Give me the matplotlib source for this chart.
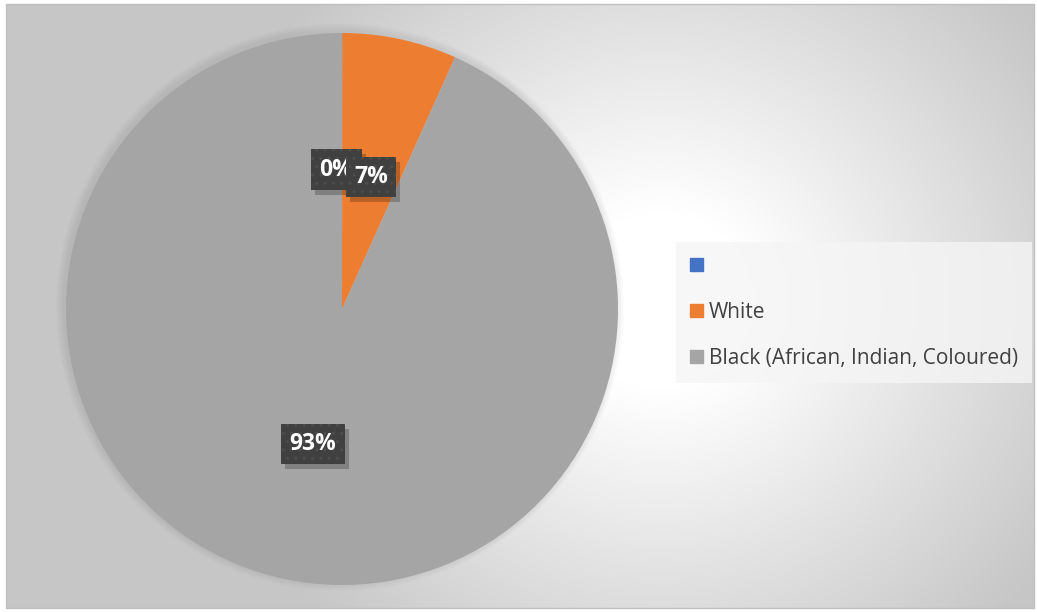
import numpy as np
import matplotlib.pyplot as plt
from matplotlib.patches import Rectangle, Circle
from matplotlib.transforms import IdentityTransform

# data
categories = ['', 'White', 'Black (African, Indian, Coloured)']
shares = [0.02, 6.7, 93.28]
pct_labels = ['0%', '7%', '93%']
colors = ['#4472C4', '#ED7D31', '#A5A5A5']

W, H = 1037, 612
fig = plt.figure(figsize=(W / 100, H / 100), dpi=100)
fig.patch.set_facecolor('white')

# background with radial gradient (chart area)
bg = fig.add_axes([0, 0, 1, 1])
bg.set_xlim(0, W)
bg.set_ylim(H, 0)
bg.axis('off')
yy, xx = np.mgrid[0:H, 0:W]
r = np.hypot((xx - 660) * 0.95, yy - 300)
t = np.clip((r - 90) / 360, 0, 1)
g = 1.0 - t * (1.0 - 0.78)
img = np.dstack([g, g, g])
bg.imshow(img, extent=(6, 1034, 608, 4), origin='upper', interpolation='bilinear')
bg.add_patch(Rectangle((6, 4), 1028, 604, fill=False, edgecolor='#bfbfbf', lw=1))

# soft shadow round the pie
cx, cy, rad = 342, 309, 276
for k in range(8):
    bg.add_patch(Circle((cx - 2, cy - 2), rad + 8 - k, color='#808080', alpha=0.025, lw=0))

ax = fig.add_axes([(cx - rad) / W, (H - cy - rad) / H, 2 * rad / W, 2 * rad / H])
ax.set_facecolor('none')
wedges, _ = ax.pie(shares, colors=colors, startangle=90, counterclock=False,
                   wedgeprops=dict(linewidth=0))
ax.set_xlim(-1, 1)
ax.set_ylim(-1, 1)

nudges = [(-4, 1), (0, -2), (0, 0)]
boxes = []
for i, (w, lab, (dx, dy)) in enumerate(zip(wedges, pct_labels, nudges)):
    ang = np.deg2rad((w.theta1 + w.theta2) / 2)
    x, y = 0.5 * np.cos(ang), 0.5 * np.sin(ang)
    t_ = ax.annotate(lab, (x, y), xytext=(dx, dy), textcoords='offset points',
                     ha='center', va='center', fontsize=16.5, fontweight='bold',
                     family='Open Sans', color='white', zorder=5 + i,
                     bbox=dict(boxstyle='square,pad=0.36', fc='#404040', ec='#4d4d4d',
                               lw=0, hatch='..'))
    boxes.append(t_)

# drop shadows under the label boxes
fig.canvas.draw()
for i, t_ in enumerate(boxes):
    bb = t_.get_bbox_patch().get_window_extent()
    sh = Rectangle((bb.x0 + 4, bb.y0 - 5), bb.width, bb.height,
                   transform=IdentityTransform(), fc='black', ec='none',
                   alpha=0.22, zorder=4.9 + i)
    ax.add_artist(sh)

handles = [Rectangle((0, 0), 1, 1, color=c) for c in colors]
leg = fig.legend(handles, categories, loc='upper left',
                 bbox_to_anchor=(676 / W, 1 - 242 / H), frameon=True,
                 prop=dict(family='Open Sans', size=15),
                 handlelength=0.6, handleheight=0.6, handletextpad=0.3,
                 labelspacing=1.2, borderpad=0.68, borderaxespad=0)
leg.get_frame().set_facecolor('#f5f5f5')
leg.get_frame().set_alpha(0.8)
leg.get_frame().set_edgecolor('none')
leg.get_frame().set_boxstyle('square', pad=0)
for txt in leg.get_texts():
    txt.set_color('#404040')

fig.savefig('out.png', dpi=100)
